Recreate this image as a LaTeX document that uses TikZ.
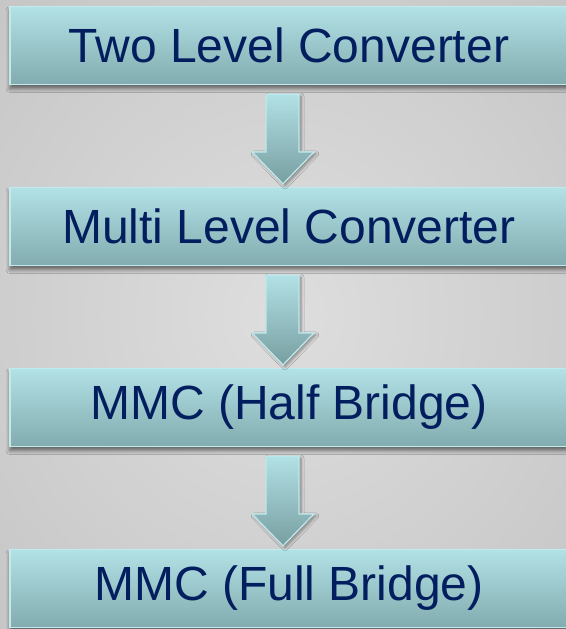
\documentclass[tikz,border=0pt]{standalone}
\usepackage{fontspec}
\setmainfont{Liberation Sans}
\usetikzlibrary{calc,shadows.blur}
\definecolor{bgedge}{RGB}{194,194,194}
\definecolor{bgmid}{RGB}{222,222,222}
\definecolor{boxtop}{RGB}{178,225,230}
\definecolor{boxbot}{RGB}{130,172,175}
\definecolor{boxedge}{RGB}{192,234,238}
\definecolor{textnavy}{RGB}{2,30,94}

\newcommand{\flowarrow}[2]{%
\path[flow] ($(#1.south)+(-23,9)$) -- ($(#1.south)+(10,9)$)
  -- ($(#2.north)+(10,-35)$) -- ($(#2.north)+(25,-35)$)
  -- ($(#2.north)+(-6,-3)$) -- ($(#2.north)+(-37,-35)$)
  -- ($(#2.north)+(-23,-35)$) -- cycle;}

\begin{document}
\begin{tikzpicture}[x=0.5pt,y=-0.5pt,
level/.style={minimum width=279pt,minimum height=39pt,inner sep=0pt,
  top color=boxtop,bottom color=boxbot,draw=boxedge,line width=0.6pt,
  text=textnavy,font=\fontsize{24}{28}\selectfont,
  blur shadow={shadow xshift=0pt,shadow yshift=-2pt,shadow blur steps=6,
    shadow blur radius=2pt,shadow opacity=55}},
flow/.style={top color=boxtop,bottom color=boxbot!92!black,draw=boxedge,line width=0.6pt,
  blur shadow={shadow xshift=1pt,shadow yshift=-1pt,shadow blur steps=5,
    shadow blur radius=1.5pt,shadow opacity=40}}]
\useasboundingbox (0,0) rectangle (566,629);
\clip (0,0) rectangle (566,629);
\shade[inner color=bgmid,outer color=bgedge] (-200,-200) rectangle (766,829);

\node[level] (C1) at (289,45.5) {Two Level Converter};
\node[level] (C2) at ([shift={+(0,181)}]C1) {Multi Level Converter};
\node[level] (C3) at ([shift={+(0,181)}]C2) {MMC (Half Bridge)};
\node[level] (C4) at ([shift={+(0,181)}]C3) {MMC (Full Bridge)};
\flowarrow{C1}{C2}
\flowarrow{C2}{C3}
\flowarrow{C3}{C4}
\end{tikzpicture}
\end{document}
